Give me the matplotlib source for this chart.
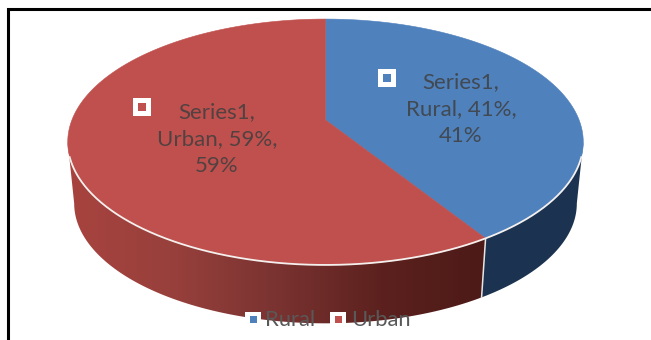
import numpy as np
import matplotlib
matplotlib.use("Agg")
import matplotlib.pyplot as plt
from matplotlib.patches import Polygon, Rectangle
from matplotlib.colors import LinearSegmentedColormap

categories = ["Rural", "Urban"]
shares = [41, 59]
series_name = "Series1"
top_colors = ["#4F81BD", "#C0504D"]

W, H = 651, 340
fig = plt.figure(figsize=(W / 100, H / 100), dpi=100)
ax = fig.add_axes([0, 0, 1, 1])
ax.set_xlim(0, W)
ax.set_ylim(H, 0)
ax.axis("off")
plt.rcParams["font.family"] = ["Lato", "DejaVu Sans"]

# Perspective projection of the unit disc onto the pie's top face
CX, CY, BX, BY, K = 325.5, 120, 253.6, 119, 0.179
DEPTH_SCALE, DEPTH_SHIFT = 0.975, 65


def project(theta):
    """theta runs clockwise from 12 o'clock, in radians."""
    u, v = np.sin(theta), np.cos(theta)
    d = 1 + K * v
    return CX + BX * u / d, CY - BY * v / d


def lower(x, y):
    return CX + (x - CX) * DEPTH_SCALE, y * DEPTH_SCALE + DEPTH_SHIFT


fractions = np.cumsum([0] + shares) / sum(shares)
edges = 2 * np.pi * fractions

# Side wall: visible between the right and left silhouette of the disc
limit_right = np.arccos(-K)
limit_left = 2 * np.pi - limit_right


def wall_polygon(a, b):
    t = np.linspace(a, b, 120)
    x, y = project(t)
    xl, yl = lower(x, y)
    return np.column_stack([np.r_[x, xl[::-1]], np.r_[y, yl[::-1]]])


# Rural wall is flat dark navy
rural_wall = Polygon(wall_polygon(limit_right, edges[1]), closed=True,
                     fc="#1B3350", ec="none", zorder=1)
ax.add_patch(rural_wall)

# Urban wall carries a horizontal shading ramp
urban_wall = Polygon(wall_polygon(edges[1], limit_left), closed=True,
                     fc="none", ec="none", zorder=1)
ax.add_patch(urban_wall)
ramp = LinearSegmentedColormap.from_list(
    "wall", ["#A8433F", "#98403C", "#7A3331", "#5C211E", "#4C1A17"])
img = ax.imshow(np.linspace(0, 1, 256)[None, :], cmap=ramp, aspect="auto",
                extent=(66, 486, 340, 100), zorder=1)
img.set_clip_path(urban_wall)
ax.set_xlim(0, W)
ax.set_ylim(H, 0)

# Seam between the two walls
sx, sy = project(edges[1])
lx, ly = lower(sx, sy)
ax.plot([sx, lx], [sy, ly], color="#E8E4E2", lw=1.1, zorder=2)

# Top faces
for a, b, col in zip(edges[:-1], edges[1:], top_colors):
    t = np.linspace(a, b, 200)
    x, y = project(t)
    pts = np.column_stack([np.r_[CX, x], np.r_[CY, y]])
    ax.add_patch(Polygon(pts, closed=True, fc=col, ec=col, lw=0.4, zorder=3))

# Light rim along the front of the top face
rim = np.linspace(limit_right + 0.12, limit_left - 0.12, 300)
ax.plot(*project(rim), color="#F4F0EE", lw=1.3, zorder=4)

# Data labels with their key markers
label_spots = [(461, 109), (217, 139)]
key_spots = [(386.5, 77.5), (141.5, 106.5)]
for cat, val, col, (lx0, ly0), (kx, ky) in zip(categories, shares, top_colors,
                                                label_spots, key_spots):
    head = f"{series_name},\n{cat}, {val}%,\n{val}%"
    ax.text(lx0, ly0, head, ha="center", va="center", fontsize=16,
            color="#3F3F3F", alpha=0.85, linespacing=1.42, zorder=5)
    ax.add_patch(Rectangle((kx - 9, ky - 9), 18, 18, fc="white", ec="none", zorder=5))
    ax.add_patch(Rectangle((kx - 4, ky - 4), 8, 8, fc=col, ec="none", zorder=6))

# Legend along the bottom edge
legend_keys = [253, 338]
legend_text = [265, 351]
for cat, col, kx, tx in zip(categories, top_colors, legend_keys, legend_text):
    ax.add_patch(Rectangle((kx - 8, 312), 16, 14, fc="white", ec="none", zorder=5))
    ax.add_patch(Rectangle((kx - 3.5, 316), 7, 7, fc=col, ec="none", zorder=6))
    ax.text(tx, 320, cat, ha="left", va="center", fontsize=15.8, color="#595959", zorder=6)

# Frame: top and left rules only
ax.plot([8, 8, W], [H, 9, 9], color="black", lw=2.2, solid_joinstyle="miter", zorder=7)

fig.savefig("out.png", dpi=100)
